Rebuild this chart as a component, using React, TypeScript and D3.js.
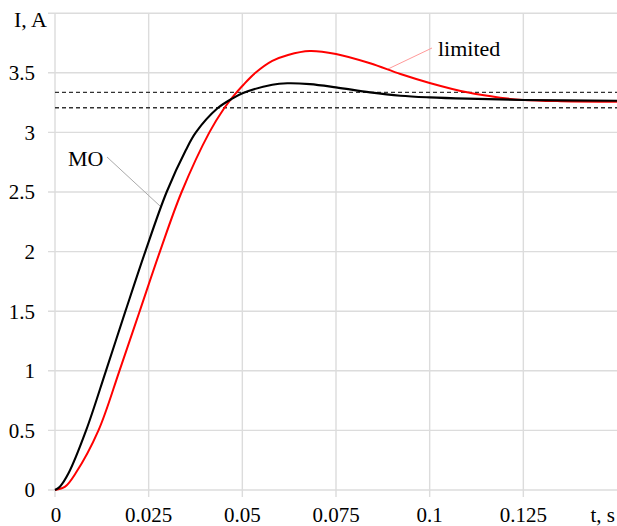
import React from "react";
import * as d3 from "d3";

const W = 617;
const H = 526;

const xTicks = [0, 0.025, 0.05, 0.075, 0.1, 0.125];
const xTickLabels = ["0", "0.025", "0.05", "0.075", "0.1", "0.125"];
const yTicks = [0, 0.5, 1, 1.5, 2, 2.5, 3, 3.5];
const yTickLabels = ["0", "0.5", "1", "1.5", "2", "2.5", "3", "3.5"];

// MO (black) response
const moT = [0, 0.0013, 0.0036, 0.0083, 0.0136, 0.0188, 0.0241, 0.0298, 0.0349, 0.0376, 0.0433, 0.0471, 0.0502, 0.058, 0.062, 0.068, 0.075, 0.0841, 0.0922, 0.1, 0.11, 0.125, 0.15];
const moI = [0, 0.028, 0.14, 0.5, 1.0, 1.5, 2.0, 2.5, 2.85, 3.0, 3.2, 3.28, 3.33, 3.4, 3.412, 3.405, 3.378, 3.336, 3.308, 3.294, 3.283, 3.272, 3.266];

// limited (red) response
const limT = [0, 0.0027, 0.0055, 0.0116, 0.0172, 0.0226, 0.028, 0.0338, 0.0412, 0.0451, 0.0475, 0.0503, 0.0535, 0.058, 0.0622, 0.068, 0.075, 0.0841, 0.0922, 0.1, 0.11, 0.1188, 0.125, 0.135, 0.15];
const limI = [0, 0.028, 0.14, 0.5, 1.0, 1.5, 2.0, 2.5, 3.0, 3.2, 3.3, 3.4, 3.5, 3.6, 3.65, 3.683, 3.658, 3.58, 3.49, 3.415, 3.336, 3.291, 3.272, 3.262, 3.258];

const bandUpper = 3.336;
const bandLower = 3.207;

const FONT = "'Liberation Serif', 'Times New Roman', serif";

export default function App() {
  const x = d3.scaleLinear().domain([0, 0.15]).range([55, 617]);
  const y = d3.scaleLinear().domain([0, 4]).range([490, 13.2]);

  const mkPath = (ts: number[], vs: number[]) =>
    d3
      .line<[number, number]>()
      .x((d) => x(d[0]))
      .y((d) => y(d[1]))
      .curve(d3.curveCatmullRom.alpha(0.5))(
        ts.map((t, i) => [t, vs[i]] as [number, number])
      ) || "";

  const gridColor = "#dcdcdc";
  const yGrid = [...yTicks, 4];

  return (
    <svg
      width={W}
      height={H}
      style={{ position: "absolute", left: 0, top: 0, background: "#fff" }}
    >
      <rect x={0} y={0} width={W} height={H} fill="#fff" />
      {yGrid.map((v) => (
        <line
          key={"hy" + v}
          x1={48}
          x2={W}
          y1={y(v)}
          y2={y(v)}
          stroke={gridColor}
          strokeWidth={1.4}
        />
      ))}
      {xTicks.map((v) => (
        <line
          key={"vx" + v}
          x1={x(v)}
          x2={x(v)}
          y1={y(4)}
          y2={497}
          stroke={gridColor}
          strokeWidth={1.4}
        />
      ))}
      {[bandUpper, bandLower].map((v) => (
        <line
          key={"b" + v}
          x1={x(0)}
          x2={W}
          y1={y(v)}
          y2={y(v)}
          stroke="#333"
          strokeWidth={1.3}
          strokeDasharray="4,3"
        />
      ))}
      {yTicks.map((v, i) => (
        <text
          key={"yl" + v}
          x={35}
          y={y(v)}
          dy="0.35em"
          textAnchor="end"
          fontFamily={FONT}
          fontSize={21}
          fill="#000"
        >
          {yTickLabels[i]}
        </text>
      ))}
      {xTicks.map((v, i) => (
        <text
          key={"xl" + v}
          x={x(v) + (i === 0 ? 1 : 0)}
          y={522}
          textAnchor="middle"
          fontFamily={FONT}
          fontSize={21}
          fill="#000"
        >
          {xTickLabels[i]}
        </text>
      ))}
      <text x={47} y={27} textAnchor="end" fontFamily={FONT} fontSize={22} fill="#000">
        I, A
      </text>
      <text x={615} y={522} textAnchor="end" fontFamily={FONT} fontSize={21} fill="#000">
        t, s
      </text>

      <line x1={107} y1={157} x2={160} y2={206} stroke="#aaa" strokeWidth={1} />
      <line x1={432} y1={48} x2={388} y2={69} stroke="#ff9a9a" strokeWidth={1} />
      <text x={68} y={166} fontFamily={FONT} fontSize={22} fill="#000">
        MO
      </text>
      <text x={438} y={56} fontFamily={FONT} fontSize={22} fill="#000">
        limited
      </text>

      <path d={mkPath(limT, limI)} fill="none" stroke="#ff0000" strokeWidth={2} />
      <path d={mkPath(moT, moI)} fill="none" stroke="#000" strokeWidth={2.1} />
    </svg>
  );
}
